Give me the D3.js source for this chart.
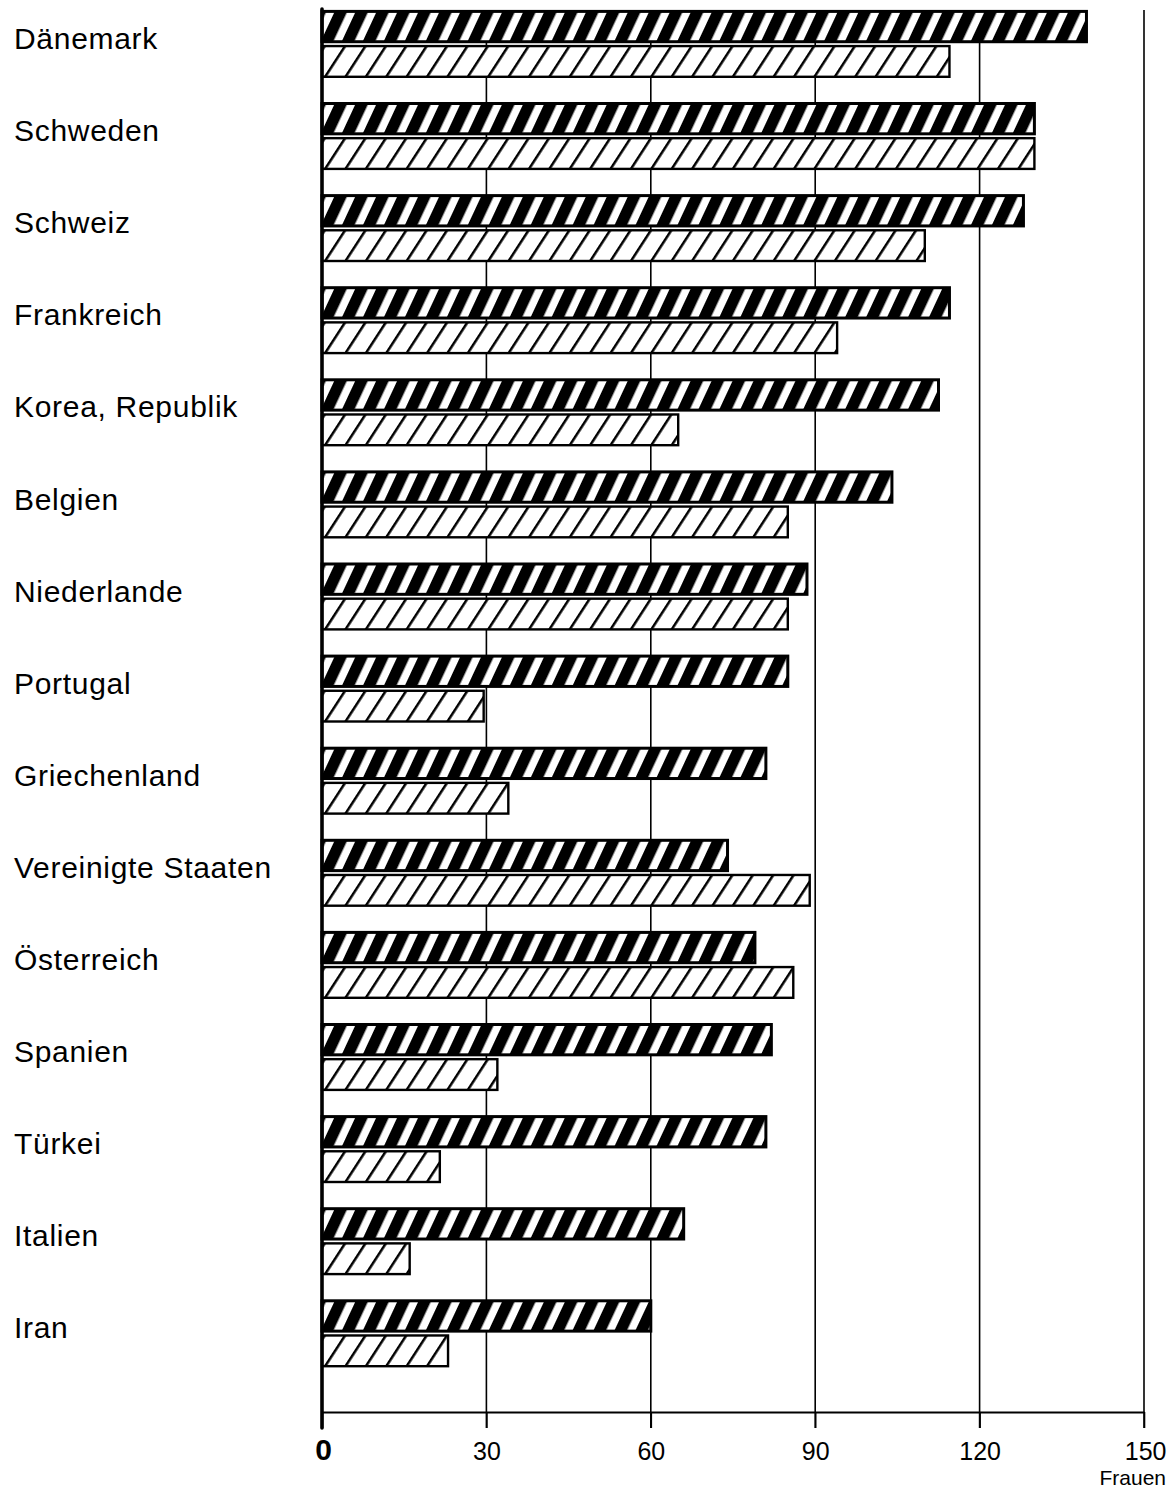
<!DOCTYPE html>
<html>
<head>
<meta charset="utf-8">
<script src="https://cdn.jsdelivr.net/npm/d3@7"></script>
<style>
  html, body { margin: 0; padding: 0; background: #fff; }
  svg { display: block; }
</style>
</head>
<body>
<svg id="chart" width="1170" height="1490"></svg>
<script>
// ---- data ----
const categories = ["Dänemark", "Schweden", "Schweiz", "Frankreich", "Korea, Republik", "Belgien",
  "Niederlande", "Portugal", "Griechenland", "Vereinigte Staaten", "Österreich", "Spanien",
  "Türkei", "Italien", "Iran"];
const seriesDark  = [139.5, 130, 128, 114.5, 112.5, 104, 88.5, 85, 81, 74, 79, 82, 81, 66, 60];
const seriesLight = [114.5, 130, 110, 94, 65, 85, 85, 29.5, 34, 89, 86, 32, 21.5, 16, 23];
const tickValues = [0, 30, 60, 90, 120, 150];
const tickLabels = ["0", "30", "60", "90", "120", "150"];
const axisUnit = "Frauen";

// ---- layout ----
const svg = d3.select("#chart");
const x0 = 322, x150 = 1144;
const topY = 10, axisY = 1412, tickBottom = 1428;
const step = 92.1, groupH = 68;
const FONT = "'Liberation Sans', Arial, Helvetica, sans-serif";

const x = d3.scaleLinear().domain([0, 150]).range([x0, x150]);
const y = d3.scaleBand().domain(categories)
  .range([topY, topY + categories.length * step - (step - groupH)])
  .paddingInner((step - groupH) / step).paddingOuter(0);
const ySub = d3.scaleBand().domain(["dark", "light"]).range([0, y.bandwidth()]).paddingInner(0.05);

// ---- patterns ----
const defs = svg.append("defs");
const pDark = defs.append("pattern").attr("id", "hatchDark")
  .attr("patternUnits", "userSpaceOnUse").attr("width", 19).attr("height", 20)
  .attr("patternTransform", "rotate(25)");
pDark.append("rect").attr("width", 19).attr("height", 20).attr("fill", "#fff");
pDark.append("rect").attr("x", 0).attr("width", 11.4).attr("height", 20).attr("fill", "#000");

const pLight = defs.append("pattern").attr("id", "hatchLight")
  .attr("patternUnits", "userSpaceOnUse").attr("width", 17.1).attr("height", 20)
  .attr("patternTransform", "rotate(33)");
pLight.append("rect").attr("width", 17.1).attr("height", 20).attr("fill", "#fff");
pLight.append("rect").attr("x", 0).attr("width", 2.5).attr("height", 20).attr("fill", "#000");

// ---- grid lines ----
svg.append("g").selectAll("line").data(tickValues.filter(d => d > 0)).join("line")
  .attr("x1", d => x(d)).attr("x2", d => x(d))
  .attr("y1", topY).attr("y2", tickBottom)
  .attr("stroke", "#000").attr("stroke-width", 1.6);

// ---- x axis ----
const xAxis = d3.axisBottom(x).tickValues(tickValues).tickSizeInner(tickBottom - axisY).tickSizeOuter(0)
  .tickFormat((d, i) => tickLabels[i]);
const gx = svg.append("g").attr("transform", `translate(0,${axisY})`).call(xAxis);
gx.select(".domain").attr("stroke", "#000").attr("stroke-width", 2.2);
gx.selectAll(".tick line").attr("stroke", "#000").attr("stroke-width", 1.6);
gx.selectAll(".tick text")
  .attr("y", 48).attr("dy", null)
  .attr("fill", "#000")
  .style("font-family", FONT)
  .style("font-size", "25px")
  .each(function(d) {
    const t = d3.select(this);
    if (d === 0) { t.style("font-weight", "bold").style("font-size", "30px").attr("x", 1); }
    if (d === 150) { t.attr("text-anchor", "end").attr("x", 1166 - x(150)); }
  });

svg.append("text").attr("x", 1166).attr("y", 1485).attr("text-anchor", "end")
  .style("font-family", FONT)
  .style("font-size", "21px").text(axisUnit);

// ---- bars ----
const groups = svg.append("g").selectAll("g").data(categories).join("g")
  .attr("transform", d => `translate(0,${y(d)})`);

groups.append("rect")
  .attr("x", x(0)).attr("y", ySub("dark") + 1.4)
  .attr("width", (d, i) => x(seriesDark[i]) - x(0))
  .attr("height", ySub.bandwidth() - 2.8)
  .attr("fill", "url(#hatchDark)").attr("stroke", "#000").attr("stroke-width", 3);

groups.append("rect")
  .attr("x", x(0)).attr("y", ySub("light") + 1.2)
  .attr("width", (d, i) => x(seriesLight[i]) - x(0))
  .attr("height", ySub.bandwidth() - 2.4)
  .attr("fill", "url(#hatchLight)").attr("stroke", "#000").attr("stroke-width", 2.4);

// ---- y axis line ----
svg.append("line").attr("x1", x(0)).attr("x2", x(0)).attr("y1", topY - 1).attr("y2", tickBottom)
  .attr("stroke", "#000").attr("stroke-width", 3.6).attr("stroke-linecap", "round");

// ---- category labels ----
svg.append("g").selectAll("text").data(categories).join("text")
  .attr("x", 14).attr("y", d => y(d) + 39)
  .style("font-family", FONT)
  .style("font-size", "30px").style("letter-spacing", "0.7px")
  .attr("fill", "#000")
  .text(d => d);
</script>
</body>
</html>
